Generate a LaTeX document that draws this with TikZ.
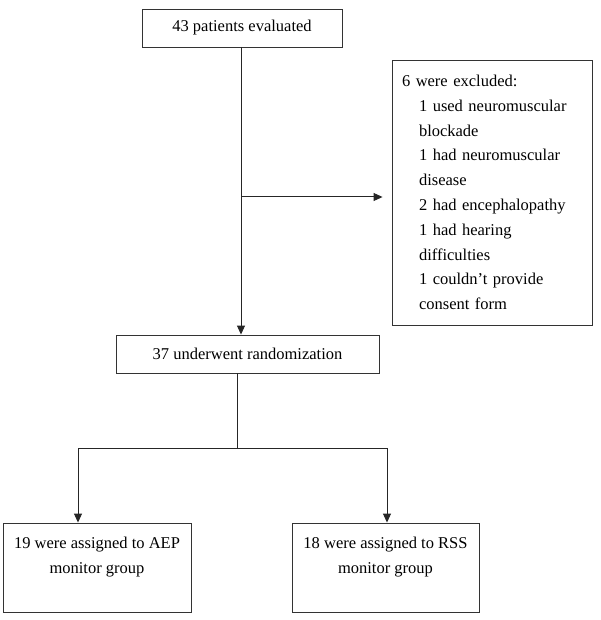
\documentclass[tikz,border=0pt]{standalone}
\usepackage{fontspec}
\setmainfont{Liberation Serif}
\usetikzlibrary{arrows.meta}
\newcommand\exind{\hspace*{17pt}}
\tikzset{
  box/.style={draw=black!80, line width=0.9pt, inner sep=0pt, font=\fontsize{16.5}{24.8}\selectfont},
  conn/.style={draw=black!85, line width=1pt},
  arr/.style={conn, -{Triangle[length=9pt,width=8pt]}}
}
\begin{document}
\begin{tikzpicture}[x=1pt,y=-1pt]
\useasboundingbox (0,0) rectangle (600,620);
\node[box, minimum width=200pt, minimum height=38pt] (top) at (242,28) {43 patients evaluated};
\node[box, minimum width=200pt, minimum height=265pt, text width=180pt, inner xsep=10pt, align=left] (excl) at (492,192.5)
 {6 were excluded:\\
  \exind 1 used neuromuscular\\
  \exind blockade\\
  \exind 1 had neuromuscular\\
  \exind disease\\
  \exind 2 had encephalopathy\\
  \exind 1 had hearing\\
  \exind difficulties\\
  \exind 1 couldn't provide\\
  \exind consent form};
\node[box, minimum width=263pt, minimum height=38pt] (rand) at (247.5,354) {37 underwent randomization};
\node[box, minimum width=188pt, minimum height=89pt, align=center] (left) at (97,567.5) {19 were assigned to AEP\\monitor group\\\mbox{}};
\node[box, minimum width=187pt, minimum height=89pt, align=center] (right) at (385.5,567.5) {18 were assigned to RSS\\monitor group\\\mbox{}};
\coordinate (tp) at (241,47);
\coordinate (br) at (241,197);
\coordinate (sp) at (237,448);
\coordinate (la) at (78,448);
\coordinate (ra) at (387,448);
\draw[arr] (tp) -- (tp |- rand.north);
\draw[arr, shorten >=9pt] (br) -- (br -| excl.west);
\draw[conn] (sp |- rand.south) -- (sp);
\draw[conn] (la) -- (ra);
\draw[arr] (la) -- (la |- left.north);
\draw[arr] (ra) -- (ra |- right.north);
\end{tikzpicture}
\end{document}
